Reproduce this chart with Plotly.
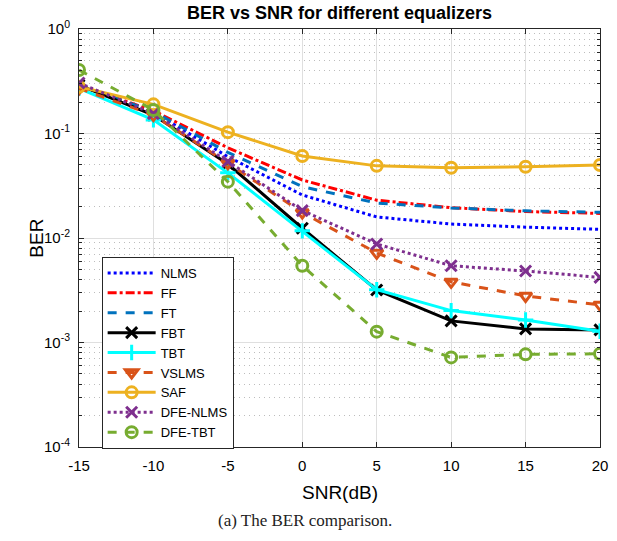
import plotly.graph_objects as go

snr = [-15, -10, -5, 0, 5, 10, 15, 20]

nlms = [0.29, 0.16, 0.060, 0.0258, 0.0159, 0.0136, 0.0127, 0.0121]
ff = [0.29, 0.165, 0.073, 0.0359, 0.0230, 0.0195, 0.0179, 0.0172]
ft = [0.29, 0.162, 0.066, 0.031, 0.0216, 0.0194, 0.0182, 0.0176]
fbt = [0.29, 0.15, 0.051, 0.0124, 0.00318, 0.00161, 0.00135, 0.00132]
tbt = [0.27, 0.135, 0.042, 0.0117, 0.0032, 0.00202, 0.00164, 0.00128]
vslms = [0.27, 0.15, 0.052, 0.0175, 0.0072, 0.0038, 0.00279, 0.00229]
saf = [0.28, 0.19, 0.103, 0.061, 0.049, 0.047, 0.048, 0.050]
dfe_nlms = [0.304, 0.155, 0.054, 0.0183, 0.00877, 0.00543, 0.00483, 0.0042]
dfe_tbt = [0.405, 0.168, 0.0346, 0.00543, 0.00127, 0.00072, 0.00077, 0.00078]

series = [
    ("NLMS", nlms, "#0000ff", "dot", None),
    ("FF", ff, "#ff0000", "dashdot", None),
    ("FT", ft, "#0072bd", "dash", None),
    ("FBT", fbt, "#000000", "solid", "x-thin"),
    ("TBT", tbt, "#00ffff", "solid", "cross-thin"),
    ("VSLMS", vslms, "#d95319", "dash", "triangle-down-open"),
    ("SAF", saf, "#edb120", "solid", "circle-open"),
    ("DFE-NLMS", dfe_nlms, "#7e2f8e", "dot", "x-thin"),
    ("DFE-TBT", dfe_tbt, "#77ac30", "dash", "circle-open"),
]

fig = go.Figure()
for name, ys, color, dash, sym in series:
    if sym is None:
        fig.add_trace(go.Scatter(x=snr, y=ys, name=name, mode="lines",
                                 line=dict(color=color, dash=dash, width=3)))
    else:
        fig.add_trace(go.Scatter(x=snr, y=ys, name=name, mode="lines+markers",
                                 line=dict(color=color, dash=dash, width=3),
                                 marker=dict(symbol=sym, size=11, color=color,
                                             line=dict(color=color, width=3))))

minor_vals = [m * 10 ** e for e in range(-4, 0) for m in range(2, 10)]
ytickvals = [1e-4, 1e-3, 1e-2, 1e-1, 1]
yticktext = ["10<sup>-4</sup>", "10<sup>-3</sup>", "10<sup>-2</sup>", "10<sup>-1</sup>", "10<sup>0</sup>"]

axis_col = "#262626"
fig.update_layout(
    width=617, height=541,
    margin=dict(l=79, r=9, t=29, b=94),
    paper_bgcolor="white", plot_bgcolor="white",
    font=dict(family="Liberation Sans, Arial, sans-serif", size=15, color="#000000"),
    title=dict(text="<b>BER vs SNR for different equalizers</b>", x=0.5, xref="paper",
               xanchor="center", y=1 - 13 / 541, yref="container", yanchor="middle",
               font=dict(size=18, color="#000000")),
    showlegend=True,
    legend=dict(x=(102 - 79) / 529, y=(447 - 257) / 418, xanchor="left", yanchor="top",
                bgcolor="white", bordercolor=axis_col, borderwidth=1,
                font=dict(size=13, color="#000000"), tracegroupgap=0,
                itemwidth=48),
    xaxis=dict(range=[-15, 20], tickvals=[-15, -10, -5, 0, 5, 10, 15, 20],
               ticktext=["-15", "-10", "-5", "0", "5", "10", "15", "20"],
               showline=True, linecolor=axis_col, linewidth=1, mirror="ticks",
               ticks="inside", ticklen=5, tickcolor=axis_col, ticklabelstandoff=5,
               showgrid=True, gridcolor="#dfdfdf", gridwidth=1, zeroline=False,
               tickfont=dict(size=15, color="#000000")),
    yaxis=dict(type="log", range=[-4, 0], tickvals=ytickvals, ticktext=yticktext,
               showline=True, linecolor=axis_col, linewidth=1, mirror="ticks",
               ticks="inside", ticklen=5, tickcolor=axis_col, ticklabelstandoff=5,
               showgrid=True, gridcolor="#dfdfdf", gridwidth=1, zeroline=False,
               tickfont=dict(size=15, color="#000000"),
               minor=dict(tickmode="array", tickvals=minor_vals, ticks="inside",
                          ticklen=3, tickcolor=axis_col, showgrid=True,
                          gridcolor="#bdbdbd", griddash="1px,4px", gridwidth=1)),
    annotations=[
        dict(text="SNR(dB)", xref="paper", yref="paper", x=0.5, y=(447 - 492) / 418,
             xanchor="center", yanchor="middle", showarrow=False,
             font=dict(size=19, color="#000000")),
        dict(text="BER", xref="paper", yref="paper", x=(35 - 79) / 529, y=(447 - 238) / 418,
             xanchor="center", yanchor="middle", showarrow=False, textangle=-90,
             font=dict(size=19, color="#000000")),
        dict(text="(a) The BER comparison.", xref="paper", yref="paper",
             x=(308.5 - 79) / 529, y=(447 - 520) / 418,
             xanchor="center", yanchor="middle", showarrow=False,
             font=dict(size=17, family="Liberation Serif, serif", color="#222222")),
    ],
)

fig.write_html("out.html")
